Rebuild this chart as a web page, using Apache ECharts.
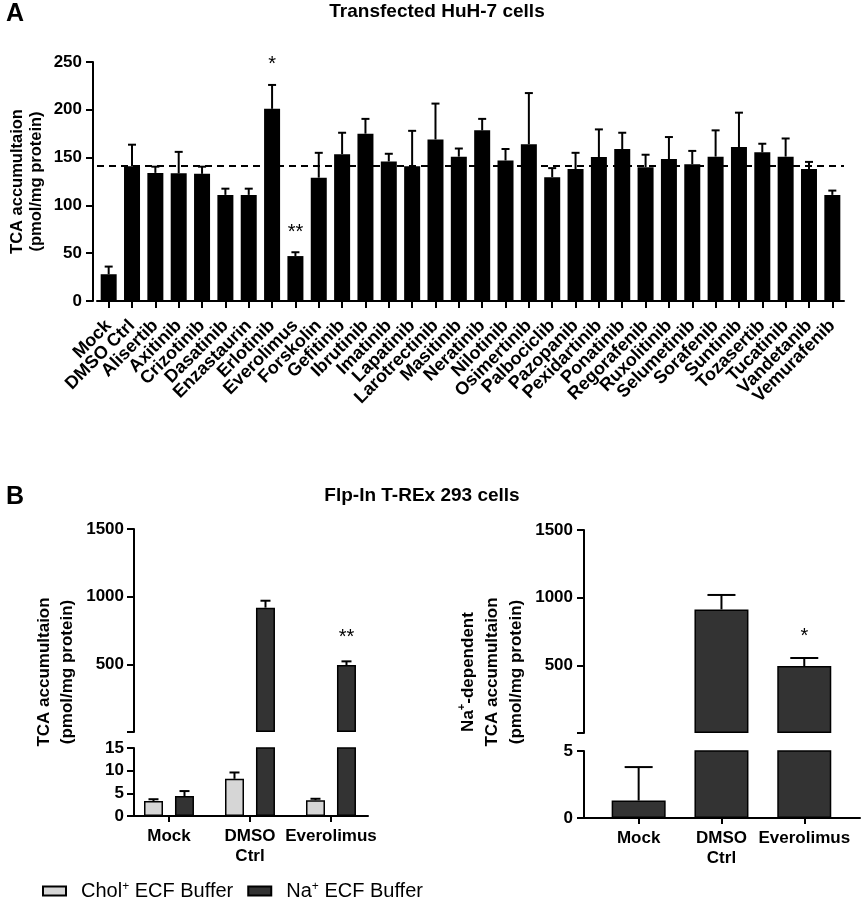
<!DOCTYPE html>
<html>
<head>
<meta charset="utf-8">
<script src="https://cdn.jsdelivr.net/npm/echarts@6/dist/echarts.min.js"></script>
<style>
  html, body { margin: 0; padding: 0; background: #fff; }
  #chart { width: 865px; height: 903px; }
</style>
</head>
<body>
<div id="chart"></div>
<script>
// panel A - transfected HuH-7 cells
const drugs = ['Mock', 'DMSO Ctrl', 'Alisertib', 'Axitinib', 'Crizotinib', 'Dasatinib', 'Enzastaurin',
  'Erlotinib', 'Everolimus', 'Forskolin', 'Gefitinib', 'Ibrutinib', 'Imatinib', 'Lapatinib',
  'Larotrectinib', 'Masitinib', 'Neratinib', 'Nilotinib', 'Osimertinib', 'Palbociclib', 'Pazopanib',
  'Pexidartinib', 'Ponatinib', 'Regorafenib', 'Ruxolitinib', 'Selumetinib', 'Sorafenib', 'Suntinib',
  'Tozasertib', 'Tucatinib', 'Vandetanib', 'Vemurafenib'];
const huhMean = [28, 141, 134, 133.5, 133, 111, 111, 201, 47, 129, 153.5, 175, 146, 141, 169, 151,
  178.5, 147, 164, 129.5, 138, 150.5, 159, 140, 148.5, 143, 151, 161, 155.5, 151, 138, 111];
const huhSd = [8, 22.5, 6.5, 22.5, 7.5, 6.5, 6.5, 25, 4, 26, 22.5, 15.5, 8, 37, 37.5, 8.5,
  12, 12, 53.5, 9.5, 17, 29, 17, 13, 23, 14, 27.5, 36, 9, 19, 7.5, 4.5];
const huhSig = ['', '', '', '', '', '', '', '*', '**', '', '', '', '', '', '', '',
  '', '', '', '', '', '', '', '', '', '', '', '', '', '', '', ''];
const dmsoLine = 141;
const huhTicks = [0, 50, 100, 150, 200, 250];

// panel B - Flp-In T-REx 293 cells
const groups = ['Mock', 'DMSO\nCtrl', 'Everolimus'];
const cholMean = [3.3, 8.2, 3.5];
const cholSd = [0.4, 1.4, 0.3];
const naMean = [4.4, 919, 495];
const naSd = [1.1, 51, 27];
const naSig = ['', '', '**'];
const naDepMean = [1.3, 913, 495];
const naDepSd = [2.5, 107, 59];
const naDepSig = ['', '', '*'];

const FONT = "'Liberation Sans', Arial, Helvetica, sans-serif";
const idx = arr => arr.map((d, i) => i);

const chart = echarts.init(document.getElementById('chart'), null, { renderer: 'canvas' });

function lineAxis() {
  return { show: true, onZero: false, lineStyle: { color: '#000', width: 2 } };
}
function tickAxis(len) {
  return { show: true, length: len, lineStyle: { color: '#000', width: 2 } };
}
function boldLabel(size) {
  return { color: '#000', fontFamily: FONT, fontWeight: 'bold', fontSize: size };
}

// error bars (upper whisker only) + significance marks
function errSeries(mean, sd, sig, xi, yi, o) {
  const rows = [];
  mean.forEach((v, i) => { if (o.keep(v)) rows.push([i, v, v + sd[i], sig ? sig[i] : '']); });
  return {
    type: 'custom', xAxisIndex: xi, yAxisIndex: yi, z: 5, clip: false, silent: true,
    encode: { x: 0, y: [1, 2] },
    data: rows.map(r => [r[0], r[1], r[2]]),
    renderItem: function (params, api) {
      const base = api.coord([api.value(0), api.value(1)]);
      const top = api.coord([api.value(0), api.value(2)]);
      const x = base[0] + o.dx;
      const st = { stroke: '#000', lineWidth: o.lw };
      const kids = [
        { type: 'line', shape: { x1: x, y1: base[1], x2: x, y2: top[1] }, style: st },
        { type: 'line', shape: { x1: x - o.cap, y1: top[1], x2: x + o.cap, y2: top[1] }, style: st }
      ];
      const s = rows[params.dataIndex][3];
      if (s) {
        kids.push({ type: 'text', style: { text: s, x: x, y: top[1] - o.sigGap, fill: '#000',
          fontFamily: FONT, fontSize: 20, align: 'center', verticalAlign: 'middle' } });
      }
      return { type: 'group', children: kids };
    }
  };
}

const pairs = (arr, keep) => arr.map((v, i) => [i, v]).filter(p => keep(p[1]));
const above15 = v => v > 15, upto15 = v => v <= 15;
const above5 = v => v > 5, upto5 = v => v <= 5;

const barStyleB = (c) => ({ color: c, borderColor: '#000', borderWidth: 1.5 });
const cholColor = '#d6d6d6', naColor = '#333333';

const catLabel = (list) => Object.assign(boldLabel(17), {
  customValues: idx(list), margin: 10, lineHeight: 20, showMinLabel: true, showMaxLabel: true,
  formatter: v => list[Math.round(v)]
});
const valLabel = (m, hideZero) => Object.assign(boldLabel(17), {
  margin: m, formatter: v => (hideZero && v === 0 ? '' : v)
});

const option = {
  animation: false,
  backgroundColor: '#fff',
  textStyle: { fontFamily: FONT },
  graphic: [
    { type: 'text', left: 6, top: 2, style: { text: 'A', fontSize: 25, fontWeight: 'bold', fontFamily: FONT, fill: '#000' } },
    { type: 'text', x: 437, y: 12, style: { text: 'Transfected HuH-7 cells', fontSize: 19, fontWeight: 'bold', fontFamily: FONT, fill: '#000', align: 'center', verticalAlign: 'middle' } },
    { type: 'text', left: 6, top: 485, style: { text: 'B', fontSize: 25, fontWeight: 'bold', fontFamily: FONT, fill: '#000' } },
    { type: 'text', x: 422, y: 496, style: { text: 'Flp-In T-REx 293 cells', fontSize: 19, fontWeight: 'bold', fontFamily: FONT, fill: '#000', align: 'center', verticalAlign: 'middle' } },
    { type: 'text', x: 56, y: 672, rotation: Math.PI / 2,
      style: { text: 'TCA accumultaion\n(pmol/mg protein)', fontSize: 17, fontWeight: 'bold', fontFamily: FONT, fill: '#000', align: 'center', verticalAlign: 'middle', lineHeight: 23 } },
    { type: 'text', x: 492, y: 672, rotation: Math.PI / 2,
      style: { text: 'Na{sup|+}-dependent\nTCA accumultaion\n(pmol/mg protein)', fontSize: 17, fontWeight: 'bold', fontFamily: FONT, fill: '#000', align: 'center', verticalAlign: 'middle', lineHeight: 24,
        rich: { sup: { fontSize: 11, fontWeight: 'bold', fontFamily: FONT, fill: '#000', verticalAlign: 'top', lineHeight: 24 } } } }
  ],
  legend: {
    left: 42, top: 881, padding: 0, icon: 'rect', itemWidth: 23, itemHeight: 9, itemGap: 14,
    data: ['Chol+ ECF Buffer', 'Na+ ECF Buffer'],
    formatter: name => name.replace('+', '{sup|+}'),
    textStyle: { color: '#000', fontFamily: FONT, fontSize: 20, padding: [0, 0, 0, 10],
      rich: { sup: { fontSize: 12, fontFamily: FONT, color: '#000', verticalAlign: 'top', lineHeight: 20 } } }
  },
  grid: [
    { left: 97, top: 62, width: 747, height: 239, outerBoundsMode: 'none' },   // A
    { left: 134, top: 529, width: 234, height: 203, outerBoundsMode: 'none' }, // B left, upper
    { left: 134, top: 748, width: 234, height: 68, outerBoundsMode: 'none' },  // B left, lower
    { left: 584, top: 530, width: 276, height: 203, outerBoundsMode: 'none' }, // B right, upper
    { left: 584, top: 751, width: 276, height: 67, outerBoundsMode: 'none' }   // B right, lower
  ],
  xAxis: [
    { type: 'category', gridIndex: 0, data: drugs, splitLine: { show: false },
      axisLine: lineAxis(), axisTick: Object.assign(tickAxis(7), { alignWithLabel: true, interval: 0 }),
      axisLabel: Object.assign(boldLabel(18), { interval: 0, rotate: 45, margin: 22 }) },
    { type: 'value', gridIndex: 1, min: -0.432, max: 2.457, show: false },
    { type: 'value', gridIndex: 2, min: -0.432, max: 2.457, splitLine: { show: false },
      axisLine: lineAxis(), axisTick: Object.assign(tickAxis(6), { customValues: idx(groups) }),
      axisLabel: catLabel(groups) },
    { type: 'value', gridIndex: 3, min: -0.66, max: 2.673, show: false },
    { type: 'value', gridIndex: 4, min: -0.66, max: 2.673, splitLine: { show: false },
      axisLine: lineAxis(), axisTick: Object.assign(tickAxis(6), { customValues: idx(groups) }),
      axisLabel: catLabel(groups) }
  ],
  yAxis: [
    { type: 'value', gridIndex: 0, offset: 4, min: huhTicks[0], max: huhTicks[huhTicks.length - 1], interval: 50,
      splitLine: { show: false }, axisLine: lineAxis(), axisTick: tickAxis(7), axisLabel: valLabel(11, false),
      name: 'TCA accumultaion\n(pmol/mg protein)', nameLocation: 'middle', nameRotate: 90, nameGap: 47,
      nameMoveOverlap: false,
      nameTextStyle: { color: '#000', fontFamily: FONT, fontWeight: 'bold', fontSize: 16.5, lineHeight: 19 } },
    { type: 'value', gridIndex: 1, min: 0, max: 1500, interval: 500, splitLine: { show: false },
      axisLine: lineAxis(), axisTick: tickAxis(7), axisLabel: valLabel(10, true) },
    { type: 'value', gridIndex: 2, min: 0, max: 15, interval: 5, splitLine: { show: false },
      axisLine: lineAxis(), axisTick: tickAxis(7), axisLabel: valLabel(10, false) },
    { type: 'value', gridIndex: 3, min: 0, max: 1500, interval: 500, splitLine: { show: false },
      axisLine: lineAxis(), axisTick: tickAxis(7), axisLabel: valLabel(11, true) },
    { type: 'value', gridIndex: 4, min: 0, max: 5, interval: 5, splitLine: { show: false },
      axisLine: lineAxis(), axisTick: tickAxis(7), axisLabel: valLabel(11, false) }
  ],
  series: [
    // A
    { type: 'bar', name: 'HuH-7', xAxisIndex: 0, yAxisIndex: 0, barWidth: 16,
      data: huhMean, itemStyle: { color: '#000' }, silent: true,
      markLine: { silent: true, symbol: 'none', label: { show: false },
        lineStyle: { color: '#000', type: [7, 5], width: 2 }, data: [{ yAxis: dmsoLine }] } },
    errSeries(huhMean, huhSd, huhSig, 0, 0, { dx: 0, cap: 4, lw: 2, sigGap: 20, keep: () => true }),

    // B left upper
    { type: 'bar', name: 'Chol+ ECF Buffer', xAxisIndex: 1, yAxisIndex: 1, barWidth: 19, barGap: '63%',
      data: pairs(cholMean, above15), itemStyle: barStyleB(cholColor) },
    { type: 'bar', name: 'Na+ ECF Buffer', xAxisIndex: 1, yAxisIndex: 1, barWidth: 19, barGap: '63%',
      data: pairs(naMean, above15), itemStyle: barStyleB(naColor) },
    // B left lower
    { type: 'bar', name: 'Chol+ ECF Buffer', xAxisIndex: 2, yAxisIndex: 2, barWidth: 19, barGap: '63%',
      data: pairs(cholMean, () => true), itemStyle: barStyleB(cholColor) },
    { type: 'bar', name: 'Na+ ECF Buffer', xAxisIndex: 2, yAxisIndex: 2, barWidth: 19, barGap: '63%',
      data: pairs(naMean, () => true), itemStyle: barStyleB(naColor) },
    errSeries(cholMean, cholSd, null, 1, 1, { dx: -15.5, cap: 5, lw: 2, sigGap: 24, keep: above15 }),
    errSeries(naMean, naSd, naSig, 1, 1, { dx: 15.5, cap: 5, lw: 2, sigGap: 24, keep: above15 }),
    errSeries(cholMean, cholSd, null, 2, 2, { dx: -15.5, cap: 5, lw: 2, sigGap: 24, keep: upto15 }),
    errSeries(naMean, naSd, null, 2, 2, { dx: 15.5, cap: 5, lw: 2, sigGap: 24, keep: upto15 }),

    // B right
    { type: 'bar', name: 'Na-dependent upper', xAxisIndex: 3, yAxisIndex: 3, barWidth: 54,
      data: pairs(naDepMean, above5), itemStyle: barStyleB(naColor) },
    { type: 'bar', name: 'Na-dependent lower', xAxisIndex: 4, yAxisIndex: 4, barWidth: 54,
      data: pairs(naDepMean, () => true), itemStyle: barStyleB(naColor) },
    errSeries(naDepMean, naDepSd, naDepSig, 3, 3, { dx: 0, cap: 14, lw: 2, sigGap: 22, keep: above5 }),
    errSeries(naDepMean, naDepSd, null, 4, 4, { dx: 0, cap: 14, lw: 2, sigGap: 22, keep: upto5 })
  ]
};

chart.setOption(option);
window.addEventListener('resize', chart.resize);
</script>
</body>
</html>
